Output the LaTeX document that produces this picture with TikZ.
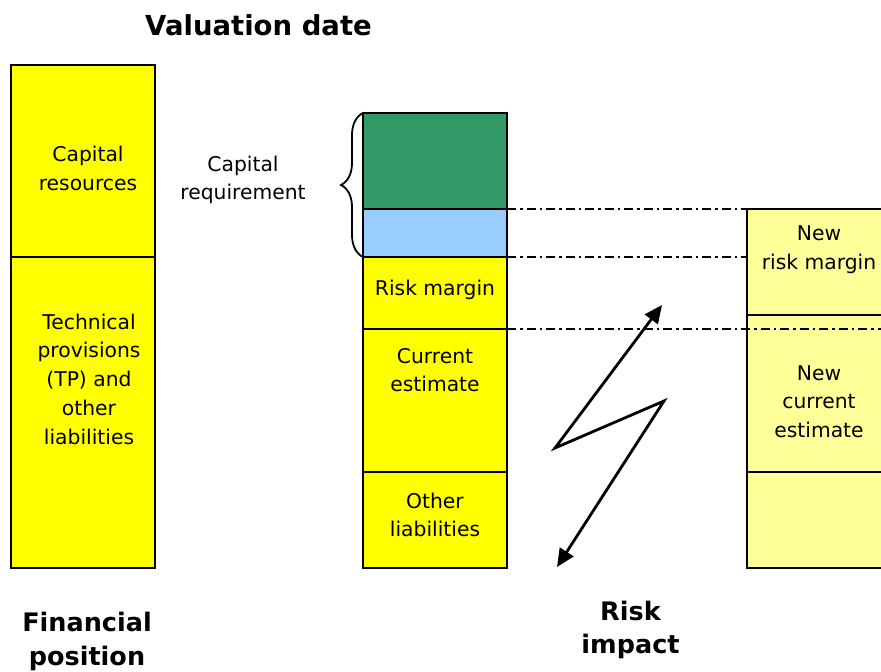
\documentclass[tikz,border=0pt]{standalone}
\usepackage{fontspec}
\setmainfont{DejaVu Sans}
\usetikzlibrary{arrows.meta,decorations.pathreplacing}
\definecolor{boxyellow}{HTML}{FFFF00}
\definecolor{capgreen}{HTML}{339966}
\definecolor{capblue}{HTML}{99CCFF}
\definecolor{newyellow}{HTML}{FFFF99}
\begin{document}
\begin{tikzpicture}[x=1pt,y=-1pt,
  colbox/.style={draw=black, line width=1.8pt, inner sep=0pt, outer sep=0pt, minimum width=144pt, anchor=north west},
  boxtext/.style={align=center, inner sep=0pt, font=\fontsize{20.3}{28.75}\selectfont},
  titletext/.style={align=center, inner sep=0pt, font=\fontsize{25.5}{33.5}\selectfont\bfseries},
  dashdot/.style={line width=1.7pt, dash pattern=on 9pt off 4pt on 2.5pt off 4pt},
  bolt/.style={line width=2.8pt, line join=miter, {Triangle[length=18pt,width=16pt]}-{Triangle[length=18pt,width=16pt]}}
]
\useasboundingbox (0,0) rectangle (881,672);
\clip (0,0) rectangle (881,672);

% left column
\node[colbox, fill=boxyellow, minimum height=192pt] (capres) at (11,65) {};
\node[colbox, fill=boxyellow, minimum height=311pt] (tpliab) at (11,257) {};
% middle column
\node[colbox, fill=capgreen, minimum height=96pt] (scrtop) at (363,113) {};
\node[colbox, fill=capblue, minimum height=48pt] (scrbot) at (363,209) {};
\node[colbox, fill=boxyellow, minimum height=72pt] (rm) at (363,257) {};
\node[colbox, fill=boxyellow, minimum height=143pt] (ce) at (363,329) {};
\node[colbox, fill=boxyellow, minimum height=96pt] (ol) at (363,472) {};
% right column
\node[colbox, fill=newyellow, minimum height=106pt] (nrm) at (747,209) {};
\node[colbox, fill=newyellow, minimum height=157pt] (nce) at (747,315) {};
\node[colbox, fill=newyellow, minimum height=96pt] (nol) at (747,472) {};

% texts
\node[boxtext] (tcapres) at (88,168.5) {Capital\\resources};
\node[boxtext] (ttp) at (89,379) {Technical\\provisions\\(TP) and\\other\\liabilities};
\node[boxtext] (tcapreq) at (243,180) {Capital\\requirement};
\node[boxtext] (trm) at (435,290) {Risk margin};
\node[boxtext] (tce) at (435,370) {Current\\estimate};
\node[boxtext] (tol) at (435,515) {Other\\liabilities};
\node[boxtext] (tnrm) at (819,250) {New\\risk margin};
\node[boxtext] (tnce) at (819,401.5) {New\\current\\estimate};

\node[titletext, font=\fontsize{27.5}{33}\selectfont\bfseries] (tval) at (258.5,25) {Valuation date};
\node[titletext] (tfin) at (87,641.7) {Financial\\position};
\node[titletext] (trisk) at (630.5,630) {Risk\\impact};

% brace
\draw[line width=1.8pt, decorate, decoration={brace, amplitude=22pt}] (scrbot.south west) -- (scrtop.north west);

% dash-dot level lines
\coordinate (rmlvl) at (747,257);
\coordinate (celvl) at (881,329);
\draw[dashdot] (scrbot.north east) -- (nrm.north west);
\draw[dashdot] (scrbot.south east) -- (rmlvl);
\draw[dashdot] (ce.north east) -- (celvl);

% lightning arrow
\coordinate (btop) at (662,305);
\coordinate (bleft) at (555,448);
\coordinate (bright) at (664,401);
\coordinate (bbot) at (557,567);
\draw[bolt] (btop) -- (bleft) -- (bright) -- (bbot);
\end{tikzpicture}
\end{document}
